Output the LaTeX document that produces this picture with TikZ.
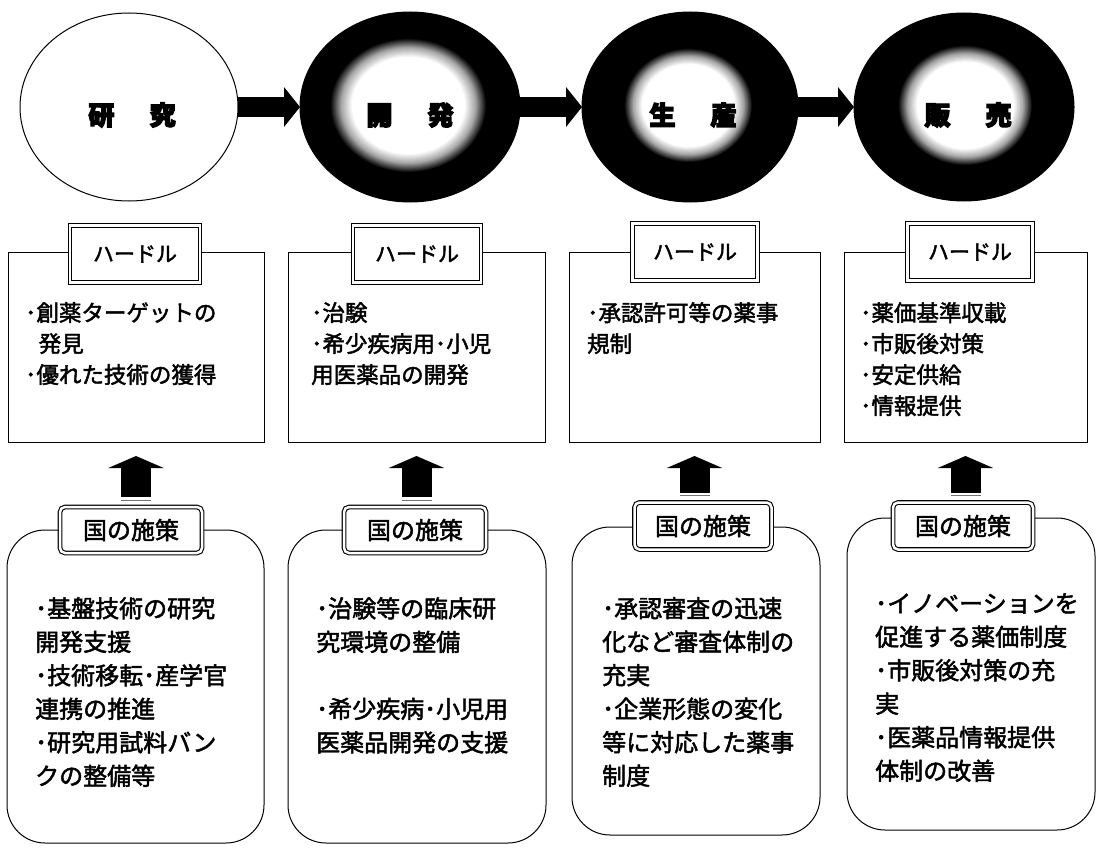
\documentclass[tikz,border=0pt]{standalone}
\usepackage{fontspec}
\setmainfont{Noto Sans CJK JP}
\newfontfamily\jp{Noto Sans CJK JP}[FakeBold=2]
\newfontfamily\jpheavy{Noto Sans CJK JP}
\newcommand\heavytext[1]{\special{pdf:literal direct 1.3 w 2 Tr}#1\special{pdf:literal direct 0 Tr}}
\usetikzlibrary{shapes.geometric,arrows.meta}
\pgfdeclareradialshading{glow}{\pgfpoint{0bp}{0bp}}{color(0bp)=(white); color(18bp)=(white); color(21.5bp)=(black!35); color(25bp)=(black); color(50bp)=(black)}
\begin{document}
\begin{tikzpicture}[x=1pt,y=-1pt,
  stage/.style={ellipse, draw=black, line width=1pt, inner sep=0pt, outer sep=0pt},
  ctext/.style={font=\jpheavy\bfseries\fontsize{26}{26}\selectfont, inner sep=0pt},
  hbox/.style={draw=black, line width=1pt, inner sep=0pt, outer sep=0pt},
  pbox/.style={draw=black, line width=1pt, rounded corners=38pt, inner sep=0pt, outer sep=0pt},
  hlabel/.style={draw=black, line width=1.1pt, double=white, double distance=2.5pt, fill=white, inner sep=0pt, outer sep=0pt, font=\jp\fontsize{21}{21}\selectfont},
  plabel/.style={hlabel, rounded corners=5pt, font=\jp\fontsize{24}{24}\selectfont},
  htext/.style={anchor=north west, align=left, inner sep=0pt, font=\jp\fontsize{22.5}{31}\selectfont},
  ptext/.style={anchor=north west, align=left, inner sep=0pt, font=\jp\fontsize{24}{33.5}\selectfont},
  flow/.style={line width=20pt, -{Triangle[length=16pt,width=39pt]}},
  lift/.style={line width=30pt, -{Triangle[length=12pt,width=55pt]}, shorten <=10pt, shorten >=14pt},
  baseline/.style={draw=black!55, line width=0.8pt}
]
\useasboundingbox (0,0) rectangle (1102,853);
\fill[white] (0,0) rectangle (1102,853);

% stages
\node[stage, fill=white, minimum width=218pt, minimum height=188pt] (c1) at (129,107) {};
\node[stage, fill=black, minimum width=220pt, minimum height=190pt] (c2) at (410,107) {};
\node[stage, fill=black, minimum width=216pt, minimum height=190pt] (c3) at (690,107) {};
\node[stage, fill=black, minimum width=220pt, minimum height=188pt] (c4) at (964,107) {};
\shade[shading=glow] (408,105) ellipse [x radius=78, y radius=67];
\shade[shading=glow] (688,105) ellipse [x radius=64, y radius=57];
\shade[shading=glow] (965,105) ellipse [x radius=67, y radius=60];

\node[ctext] (t1) at ([shift={(3,8)}]c1.center) {\heavytext{研\hspace{1.35em}究}};
\node[ctext] (t2) at ([shift={(0,8)}]c2.center) {\heavytext{開\hspace{1.35em}発}};
\node[ctext] (t3) at ([shift={(3,8)}]c3.center) {\heavytext{生\hspace{1.35em}産}};
\node[ctext] (t4) at ([shift={(4,8)}]c4.center) {\heavytext{販\hspace{1.35em}売}};

\draw[flow] (c1.east) -- (c2.west);
\draw[flow] (c2.east) -- (c3.west);
\draw[flow] (c3.east) -- (c4.west);

% hurdle boxes
\node[hbox, minimum width=256pt, minimum height=190pt] (b1) at (136,347) {};
\node[hbox, minimum width=257pt, minimum height=190pt] (b2) at (416.5,347) {};
\node[hbox, minimum width=251pt, minimum height=190pt] (b3) at (694.5,347) {};
\node[hbox, minimum width=243pt, minimum height=190pt] (b4) at (965.5,347) {};

\node[hlabel, minimum width=130pt, minimum height=57pt] (h1) at (135,254) {ハードル};
\node[hlabel, minimum width=128pt, minimum height=57pt] (h2) at (417,254) {ハードル};
\node[hlabel, minimum width=125pt, minimum height=57pt] (h3) at (695,252) {ハードル};
\node[hlabel, minimum width=125pt, minimum height=57pt] (h4) at (970,252) {ハードル};

\node[htext] (ht1) at (25,302) {･創薬ターゲットの\\\hspace*{0.6em}発見\\･優れた技術の獲得};
\node[htext] (ht2) at (311,302) {･治験\\･希少疾病用･小児\\用医薬品の開発};
\node[htext] (ht3) at (587,302) {･承認許可等の薬事\\規制};
\node[htext] (ht4) at (860,302) {･薬価基準収載\\･市販後対策\\･安定供給\\･情報提供};

% policy boxes
\node[pbox, minimum width=257pt, minimum height=313pt] (p1) at (135.5,686.5) {};
\node[pbox, minimum width=258pt, minimum height=313pt] (p2) at (417,686.5) {};
\node[pbox, minimum width=248pt, minimum height=308pt] (p3) at (696,681) {};
\node[pbox, minimum width=248pt, minimum height=312pt] (p4) at (971,674) {};

\node[plabel, minimum width=142pt, minimum height=46pt] (l1) at (131,530) {国の施策};
\node[plabel, minimum width=142pt, minimum height=46pt] (l2) at (415,530) {国の施策};
\node[plabel, minimum width=137pt, minimum height=47pt] (l3) at (703,526) {国の施策};
\node[plabel, minimum width=140pt, minimum height=47pt] (l4) at (963,526) {国の施策};

\node[ptext] (pt1) at (35,597) {･基盤技術の研究\\開発支援\\･技術移転･産学官\\連携の推進\\･研究用試料バン\\クの整備等};
\node[ptext] (pt2) at (316,597) {･治験等の臨床研\\究環境の整備\\[33.5pt]･希少疾病･小児用\\医薬品開発の支援};
\node[ptext] (pt3) at (602,597) {･承認審査の迅速\\化など審査体制の\\充実\\･企業形態の変化\\等に対応した薬事\\制度};
\node[ptext] (pt4) at (875,593) {･イノベーションを\\促進する薬価制度\\･市販後対策の充\\実\\･医薬品情報提供\\体制の改善};

% lift arrows
\draw[lift] (b1.south |- l1.north) -- (b1.south);
\draw[lift] (b2.south |- l2.north) -- (b2.south);
\draw[lift] (b3.south |- l3.north) -- (b3.south);
\draw[lift] (b4.south |- l4.north) -- (b4.south);
\foreach \i in {1,2,3,4} {
  \coordinate (u\i) at ([yshift=7pt]b\i.south |- l\i.north);
  \draw[baseline] ([xshift=-15pt]u\i) -- ([xshift=15pt]u\i);
}
\end{tikzpicture}
\end{document}
